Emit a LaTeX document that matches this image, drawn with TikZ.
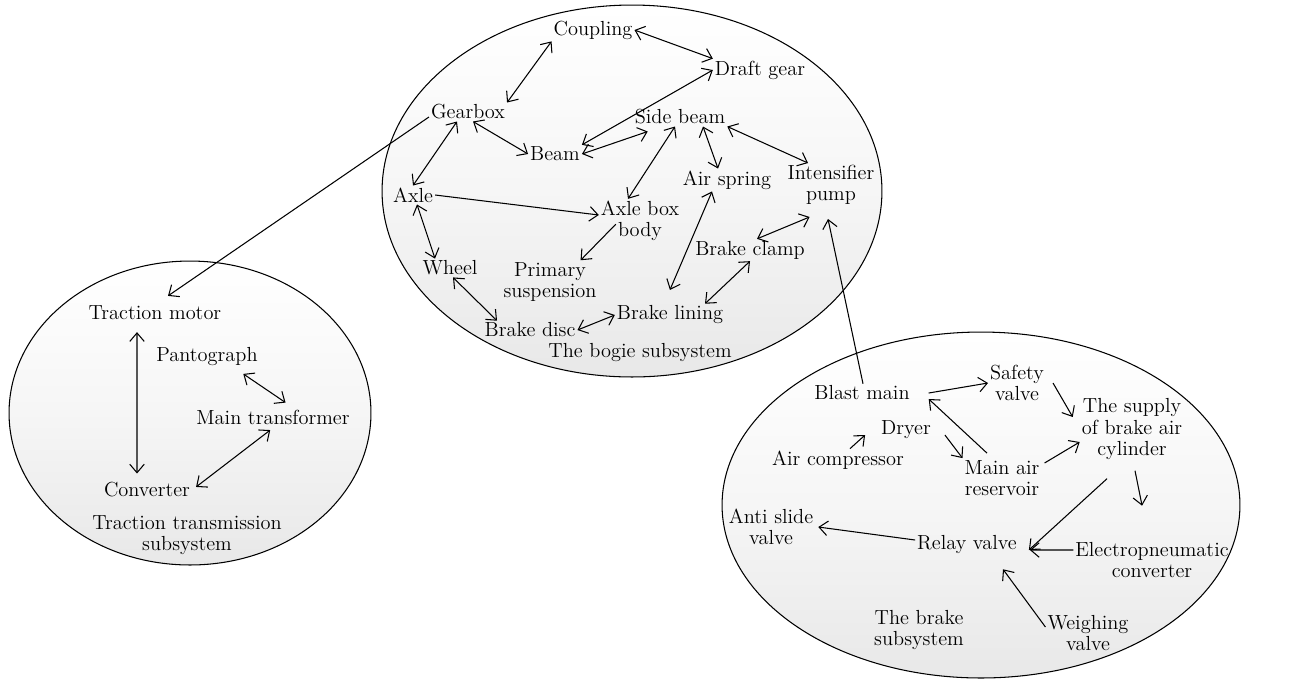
\documentclass[tikz,border=0pt]{standalone}
\usetikzlibrary{arrows.meta}
\def\tractring{(190, 413) ellipse [x radius=3.62cm, y radius=3.04cm]}
\def\bogiering{(632, 191) ellipse [x radius=5.0cm, y radius=3.72cm]}
\def\brakering{(981, 505) ellipse [x radius=5.18cm, y radius=3.46cm]}
\newcommand\partfont{\fontsize{11.6}{12.2}\selectfont}
\colorlet{ring edge}{black}
\colorlet{ring top}{white}
\colorlet{ring bottom}{black!9}
\tikzset{
  ring/.style={draw=ring edge, line width=0.6pt, top color=ring top, bottom color=ring bottom, middle color=ring top!60!ring bottom},
  part/.style={inner sep=1pt, align=center, font=\partfont},
  barb/.tip={Straight Barb[length=1.7mm, width=2.9mm, line width=0.6pt]},
  link/.style={draw, line width=0.6pt, barb-barb},
  flow/.style={draw, line width=0.6pt, -barb}
}

\begin{document}
\begin{tikzpicture}[x=0.02cm, y=-0.02cm]
    \useasboundingbox (0, 0) rectangle (1297, 681);
    \shade[ring] \tractring;
    \shade[ring] \bogiering;
    \shade[ring] \brakering;
    % bogie subsystem
    \node[part] (coupling) at (593, 30) {Coupling};
    \node[part] (draft) at (760, 70) {Draft gear};
    \node[part] (gearbox) at (468, 112) {Gearbox};
    \node[part] (side) at (680, 117) {Side beam};
    \node[part] (beam) at (555, 154) {Beam};
    \node[part] (air) at (727, 180) {Air spring};
    \node[part] (pump) at (831, 185) {Intensifier\\pump};
    \node[part] (axle) at (413, 195) {Axle};
    \node[part] (axlebox) at (640, 221) {Axle box\\body};
    \node[part] (clamp) at (750, 250) {Brake clamp};
    \node[part] (wheel) at (450, 268) {Wheel};
    \node[part] (primary) at (550, 282) {Primary\\suspension};
    \node[part] (lining) at (670, 315) {Brake lining};
    \node[part] (disc) at (530, 330) {Brake disc};
    \node[part] (bogie) at (640, 353) {The bogie subsystem};
    % traction transmission subsystem
    \node[part] (tmotor) at (155, 313) {Traction motor};
    \node[part] (panto) at (207, 357) {Pantograph};
    \node[part] (mtrans) at (273, 417) {Main transformer};
    \node[part] (conv) at (147, 490) {Converter};
    \node[part] (tract) at (187, 535) {Traction transmission\\subsystem};
    % brake subsystem
    \node[part] (blast) at (862, 393) {Blast main};
    \node[part] (safety) at (1017, 383) {Safety\\valve};
    \node[part] (supply) at (1132, 429) {The supply\\of brake air\\cylinder};
    \node[part] (dryer) at (906, 430) {Dryer};
    \node[part] (aircomp) at (838, 460) {Air compressor};
    \node[part] (mair) at (1002, 478) {Main air\\reservoir};
    \node[part] (antislide) at (771, 527) {Anti slide\\valve};
    \node[part] (relay) at (967, 544) {Relay valve};
    \node[part] (electro) at (1152, 560) {Electropneumatic\\converter};
    \node[part] (brake) at (919, 630) {The brake\\subsystem};
    \node[part] (weigh) at (1088, 633) {Weighing\\valve};

    \draw[link] (coupling.south west) -- (gearbox.north east);
    \draw[link] (coupling.east) -- (draft.north west);
    \draw[link] (draft.west) -- (beam.north east);
    \draw[link] ([xshift=0.1cm]gearbox.south) -- (beam.west);
    \draw[link] (beam.east) -- ([shift={(0.3cm,-0.1cm)}]side.south west);
    \draw[link] ([xshift=-0.22cm]gearbox.south) -- (axle.north);
    \draw[link] ([xshift=-0.1cm]side.south) -- ([xshift=-0.24cm]axlebox.north);
    \draw[link] ([xshift=0.46cm]side.south) -- ([xshift=-0.18cm]air.north);
    \draw[link] (side.south east) -- ([xshift=-0.46cm]pump.north);
    \draw[flow] (axle.east) -- ([yshift=0.12cm]axlebox.west);
    \draw[link] ([xshift=0.08cm]axle.south) -- ([xshift=-0.3cm]wheel.north);
    \draw[flow] ([shift={(0.34cm,0.38cm)}]axlebox.south west) -- ([xshift=-0.36cm]primary.north east);
    \draw[link, shorten >=0.3cm] ([xshift=-0.3cm]air.south) -- ([xshift=-0.12cm]lining.north);
    \draw[link] ([xshift=0.14cm]clamp.north) -- ([shift={(0.48cm,-0.2cm)}]pump.south west);
    \draw[link] (clamp.south) -- ([xshift=0.7cm]lining.north);
    \draw[link] ([xshift=0.06cm]wheel.south) -- ([xshift=-0.66cm]disc.north);
    \draw[link] (disc.east) -- (lining.west);
    \draw[flow] ([xshift=0.02cm]blast.north) -- ([shift={(-0.06cm,-0.24cm)}]pump.south);
    \draw[flow] ([yshift=-0.1cm]gearbox.west) -- ([shift={(0.26cm,0.16cm)}]tmotor.north);

    \draw[link, shorten <=0.2cm, shorten >=0.14cm] ([xshift=-0.36cm]tmotor.south) -- ([xshift=-0.2cm]conv.north);
    \draw[link, shorten <=0.2cm, shorten >=0.18cm] ([xshift=0.56cm]panto.south) -- ([xshift=0.4cm]mtrans.north);
    \draw[link, shorten <=0.12cm, shorten >=0.1cm] ([xshift=0.04cm]mtrans.south) -- (conv.east);

    \draw[flow] ([xshift=0.34cm]blast.east) -- (safety.west);
    \draw[flow] ([xshift=-0.3cm, yshift=0.1cm]mair.north) -- ([shift={(0.34cm,-0.12cm)}]blast.east);
    \draw[flow] ([xshift=0.24cm]aircomp.north) -- ([shift={(-0.28cm,-0.1cm)}]dryer.west);
    \draw[flow] ([shift={(0.24cm,-0.1cm)}]dryer.east) -- (mair.north west);
    \draw[flow] ([xshift=0.14cm]safety.east) -- ([shift={(-0.14cm,0.24cm)}]supply.west);
    \draw[flow] ([shift={(0.06cm,0.3cm)}]mair.east) -- ([yshift=-0.26cm]supply.west);
    \draw[flow] ([shift={(-0.5cm,-0.34cm)}]supply.south) -- ([shift={(0.2cm,-0.12cm)}]relay.east);
    \draw[flow, shorten >=0.7cm] ([shift={(0.06cm,-0.18cm)}]supply.south) -- ([xshift=-0.06cm]electro.north);
    \draw[flow] ([yshift=0.2cm]electro.west) -- ([shift={(0.22cm,-0.12cm)}]relay.east);
    \draw[flow] ([yshift=0.08cm]relay.west) -- ([xshift=0.06cm]antislide.east);
    \draw[flow] ([yshift=0.12cm]weigh.west) -- ([shift={(0.72cm,-0.28cm)}]relay.south);
  \end{tikzpicture}
\end{document}
